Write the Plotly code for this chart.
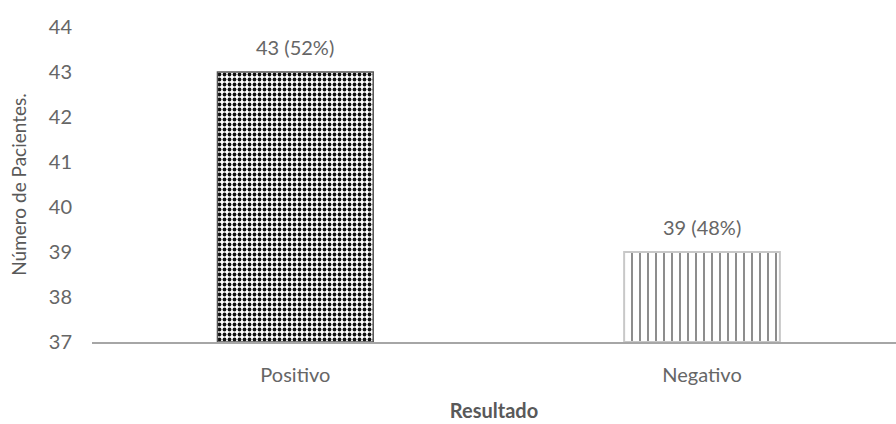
import plotly.graph_objects as go

categorias = ["Positivo", "Negativo"]
pacientes = [43, 39]
porcentajes = [52, 48]

BASE = 37
etiquetas = [f"{n} ({p}%)" for n, p in zip(pacientes, porcentajes)]
gris = "#666666"

fig = go.Figure()
fig.add_trace(go.Bar(
    x=[categorias[0]], y=[pacientes[0] - BASE], base=BASE,
    width=0.383,
    marker=dict(
        color="white",
        line=dict(color="#555555", width=1.5),
        pattern=dict(shape=".", fgcolor="#111111", bgcolor="white",
                     size=5, solidity=0.45, fillmode="replace"),
    ),
))
fig.add_trace(go.Bar(
    x=[categorias[1]], y=[pacientes[1] - BASE], base=BASE,
    width=0.383,
    marker=dict(
        color="white",
        line=dict(color="#c8c8c8", width=2),
        pattern=dict(shape="|", fgcolor="#333333", bgcolor="white",
                     size=8, solidity=0.14, fillmode="replace"),
    ),
))

# value labels above each bar
for cat, val, txt in zip(categorias, pacientes, etiquetas):
    fig.add_annotation(
        x=cat, y=val, text=txt, showarrow=False,
        yanchor="middle", yshift=25,
        font=dict(family="Lato", size=20, color=gris),
    )

fig.update_layout(
    width=896, height=424,
    margin=dict(l=92, r=0, t=27, b=82),
    paper_bgcolor="white", plot_bgcolor="white",
    showlegend=False, barmode="overlay",
    font=dict(family="Lato", color=gris),
)
fig.update_xaxes(
    type="category", categoryorder="array", categoryarray=categorias,
    range=[-0.5, 1.477],
    showline=True, linecolor="#a6a6a6", linewidth=2,
    ticks="", tickfont=dict(size=20, color=gris),
    ticklabelstandoff=14,
    title=dict(text="<b>Resultado</b>", font=dict(size=20, color="#595959"), standoff=19),
)
fig.update_yaxes(
    range=[37, 44], dtick=1, showgrid=False, zeroline=False,
    showline=False, ticks="", tickfont=dict(size=20, color=gris),
    ticklabelstandoff=19,
    title=dict(text="Número de Pacientes.", font=dict(size=19, color="#595959"), standoff=17),
)

fig.write_html("out.html")
